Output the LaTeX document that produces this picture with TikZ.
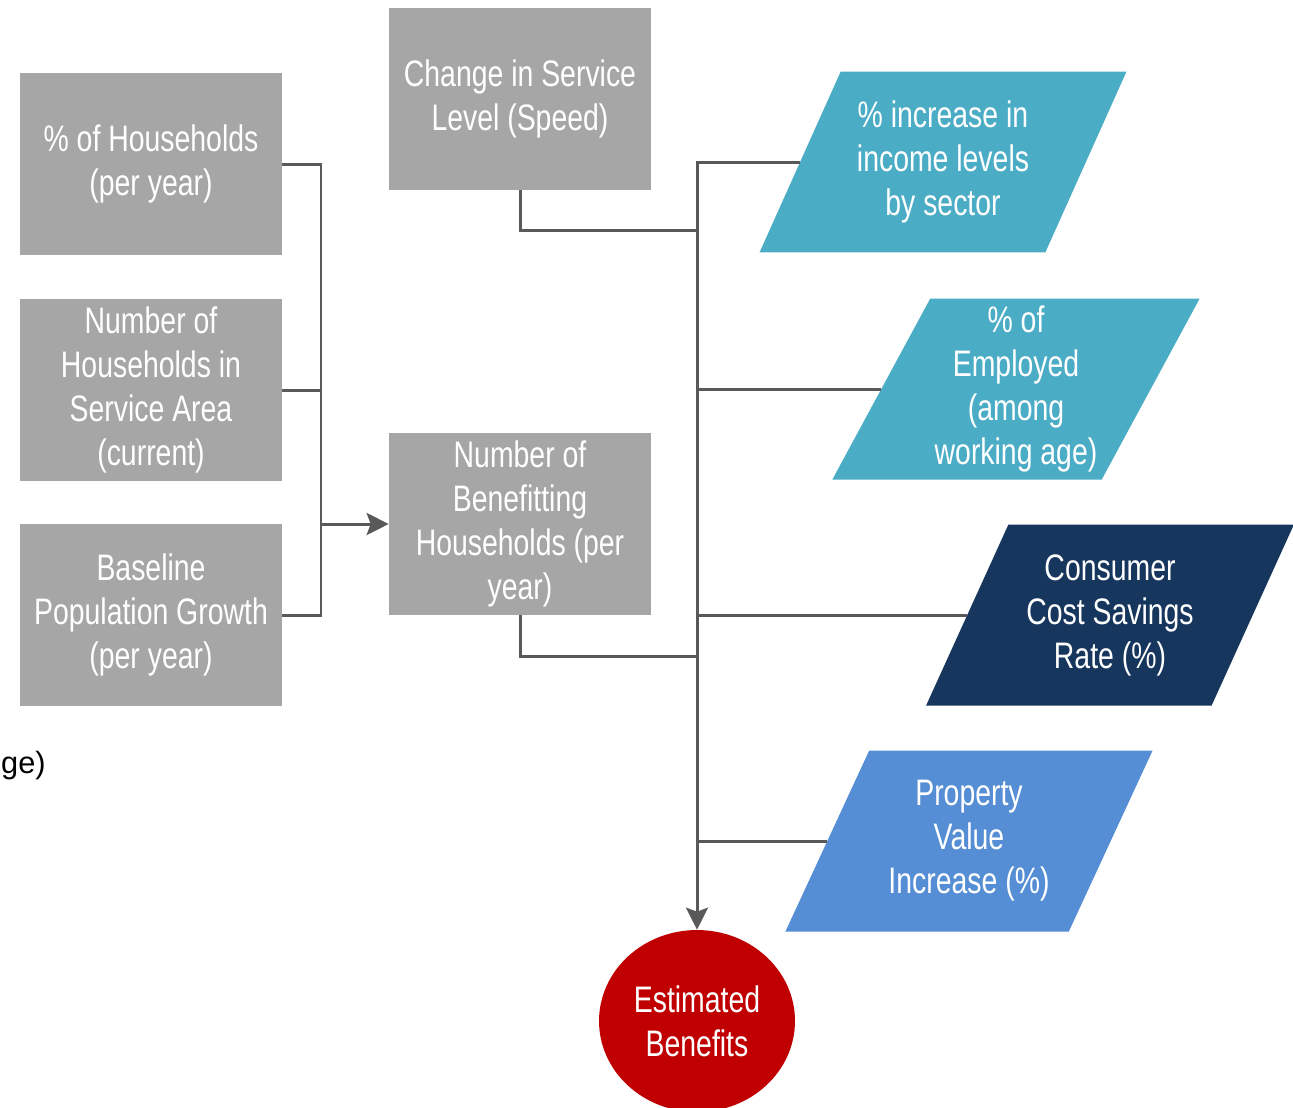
\documentclass[tikz,border=0pt]{standalone}
\usepackage{fontspec}
\setmainfont[FakeStretch=0.77]{Liberation Sans}
\newfontfamily\plainsans{Liberation Sans}
\usetikzlibrary{shapes.geometric,arrows.meta}

\definecolor{boxgray}{HTML}{A6A6A6}
\definecolor{linegray}{HTML}{595959}
\definecolor{tealblue}{HTML}{4BACC6}
\definecolor{navyblue}{HTML}{17365D}
\definecolor{midblue}{HTML}{558ED5}
\definecolor{darkred}{HTML}{C00000}

\begin{document}
\begin{tikzpicture}[x=0.02cm,y=-0.02cm,
    every node/.style={text=white,align=center,font=\fontsize{21}{25}\selectfont},
    graybox/.style={fill=boxgray,minimum width=5.24cm,minimum height=3.64cm,inner sep=0pt},
    para/.style={trapezium,trapezium left angle=60.8,trapezium right angle=119.2,
        trapezium stretches=true,minimum width=7.36cm,minimum height=3.62cm,inner sep=0pt},
    link/.style={draw=linegray,line width=1.7pt},
    tip/.style={-{Stealth[length=0.44cm,width=0.44cm,inset=0.08cm]}}]
        \useasboundingbox (0,0) rectangle (1293,1107);
        \clip (0,0) rectangle (1293,1107);
        % input boxes
        \node[graybox] (hh) at (151,164) {\% of Households\\(per year)};
        \node[graybox] (hsa) at (151,390) {Number of\\Households in\\Service Area\\(current)};
        \node[graybox] (pg) at (151,615) {Baseline\\Population Growth\\(per year)};
        \node[graybox] (csl) at (520,99) {Change in Service\\Level (Speed)};
        \node[graybox] (nbh) at (520,524) {Number of\\Benefitting\\Households (per\\year)};
        % rates
        \node[para,fill=tealblue] (inc) at (943,162) {\% increase in\\income levels\\by sector};
        \node[para,fill=tealblue] (emp) at (1016,389) {\% of\\Employed\\(among\\working age)};
        \node[para,fill=navyblue] (ccs) at (1110,615) {Consumer\\Cost Savings\\Rate (\%)};
        \node[para,fill=midblue] (pvi) at (969,841) {Property\\Value\\Increase (\%)};
        \node[ellipse,fill=darkred,minimum width=3.92cm,minimum height=3.64cm,inner sep=0pt] (est) at (697,1021) {Estimated\\Benefits};
        \node[text=black,anchor=east,inner sep=0pt,font=\plainsans\fontsize{17.5}{21}\selectfont] (cut) at (46,766) {ge)};
        % links
        \coordinate (lbus) at (321,524);
        \coordinate (j1) at (697,230);
        \coordinate (j2) at (697,656);
        \draw[link] (hh.east) -| (lbus);
        \draw[link] (hsa.east) -| (lbus);
        \draw[link] (pg.east) -| (lbus);
        \draw[link,tip] (lbus) -- (nbh.west);
        \draw[link] (csl.south) |- (j1);
        \draw[link] (nbh.south) |- (j2);
        \draw[link,tip] (inc.west) -| (est.north);
        \draw[link] (emp.west) -- (emp.west -| est.north);
        \draw[link] (ccs.west) -- (ccs.west -| est.north);
        \draw[link] (pvi.west) -- (pvi.west -| est.north);
\end{tikzpicture}
\end{document}
